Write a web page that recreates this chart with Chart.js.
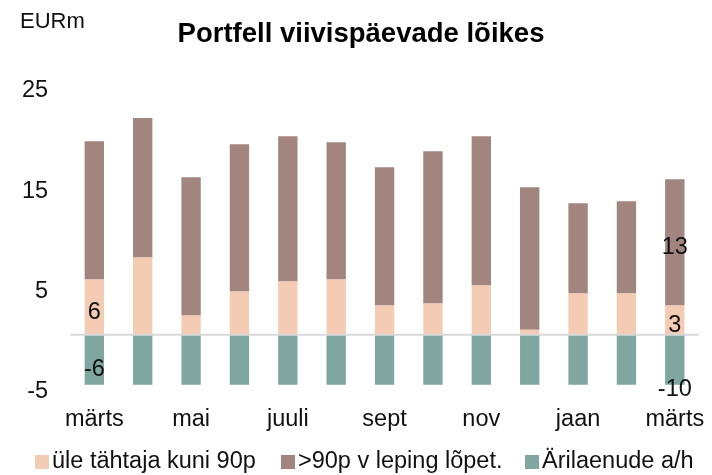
<!DOCTYPE html>
<html>
<head>
<meta charset="utf-8">
<script src="https://cdn.jsdelivr.net/npm/chart.js@4"></script>
<style>
  html, body { margin: 0; padding: 0; background: #fff; }
  #wrap { position: relative; width: 712px; height: 475px; }
  #legend { position: absolute; left: 0; top: 446px; width: 712px; height: 28px;
            font: 23.5px "Liberation Sans", Arial, sans-serif; color: #111; }
  #legend .item { position: absolute; top: 0; white-space: nowrap; line-height: 28px; }
  #legend .box { display: inline-block; width: 14px; height: 14px; margin-right: 3px; vertical-align: -1px; }
</style>
</head>
<body>
<div id="wrap"><canvas id="chart"></canvas><div id="legend"></div></div>
<script>
const months = ['märts', 'apr', 'mai', 'juuni', 'juuli', 'aug', 'sept', 'okt', 'nov', 'dets', 'jaan', 'veebr', 'märts'];
const overdue90 = [5.5, 7.7, 1.9, 4.3, 5.3, 5.5, 2.9, 3.1, 4.9, 0.5, 4.1, 4.1, 2.9];
const over90 = [13.8, 13.9, 13.8, 14.7, 14.5, 13.7, 13.8, 15.2, 14.9, 14.2, 9.0, 9.2, 12.6];
const businessLoans = [-6, -6, -6, -7, -7, -7, -8, -8, -8, -9, -9, -10, -10];
const yTicks = [-5, 5, 15, 25];
const seriesNames = ['üle tähtaja kuni 90p', '>90p v leping lõpet.', 'Ärilaenude a/h'];
const seriesColors = ['#f4cbb3', '#a3857f', '#7fa7a0'];
// which segments carry a value label: [month index, dataset index]
const labelled = [[0, 0], [0, 2], [12, 0], [12, 1], [12, 2]];

const FONT = '"Liberation Sans", Arial, sans-serif';

// value labels centred on the (unclipped) segment
const valueLabels = {
  id: 'valueLabels',
  afterDatasetsDraw(chart) {
    const ctx = chart.ctx;
    const y = chart.scales.y;
    ctx.save();
    ctx.font = '23.5px ' + FONT;
    ctx.fillStyle = '#111';
    ctx.textAlign = 'center';
    ctx.textBaseline = 'middle';
    labelled.forEach(([i, d]) => {
      const bar = chart.getDatasetMeta(d).data[i];
      const base = d === 1 ? overdue90[i] : 0;
      const v = chart.data.datasets[d].data[i];
      const mid = y.getPixelForValue(base + v / 2);
      ctx.fillText(String(Math.round(v)), bar.x, mid + 5);
    });
    ctx.restore();
  }
};

const zeroLine = {
  id: 'zeroLine',
  afterDatasetsDraw(chart) {
    const ctx = chart.ctx;
    const area = chart.chartArea;
    const y0 = chart.scales.y.getPixelForValue(0);
    ctx.save();
    ctx.strokeStyle = '#d9d9d9';
    ctx.lineWidth = 2;
    ctx.beginPath();
    ctx.moveTo(area.left, y0);
    ctx.lineTo(area.right, y0);
    ctx.stroke();
    ctx.restore();
  }
};

// unit label and title, drawn at the reference's positions
const headings = {
  id: 'headings',
  afterDraw(chart) {
    const ctx = chart.ctx;
    ctx.save();
    ctx.fillStyle = '#111';
    ctx.textBaseline = 'middle';
    ctx.font = '22px ' + FONT;
    ctx.fillText('EURm', 20, 22);
    ctx.fillStyle = '#000';
    ctx.textAlign = 'center';
    ctx.textBaseline = 'alphabetic';
    ctx.font = 'bold 27.5px ' + FONT;
    ctx.fillText('Portfell viivispäevade lõikes', 361, 42);
    ctx.restore();
  }
};

const chart = new Chart(document.getElementById('chart'), {
  type: 'bar',
  data: {
    labels: months,
    datasets: [
      { label: seriesNames[0], data: overdue90, backgroundColor: seriesColors[0] },
      { label: seriesNames[1], data: over90, backgroundColor: seriesColors[1] },
      { label: seriesNames[2], data: businessLoans, backgroundColor: seriesColors[2] }
    ]
  },
  options: {
    responsive: true,
    maintainAspectRatio: false,
    animation: false,
    layout: { padding: { left: 0, right: 13, top: 84, bottom: 20 } },
    datasets: { bar: { barPercentage: 0.4, categoryPercentage: 1, borderWidth: 0 } },
    plugins: {
      title: { display: false },
      legend: { display: false },
      tooltip: { enabled: false }
    },
    scales: {
      x: {
        stacked: true,
        grid: { display: false, drawTicks: false },
        border: { display: false },
        afterFit: axis => { axis.paddingLeft = 0; axis.paddingRight = 0; },
        ticks: {
          autoSkip: false,
          maxRotation: 0,
          color: '#111',
          font: { family: FONT, size: 23.5 },
          padding: 21,
          callback: (v, i) => (i % 2 === 0 ? months[i] : '')
        }
      },
      y: {
        stacked: true,
        min: -5,
        max: 25,
        grid: { display: false, drawTicks: false },
        border: { display: false },
        afterBuildTicks: axis => { axis.ticks = yTicks.map(v => ({ value: v })); },
        ticks: {
          color: '#111',
          font: { family: FONT, size: 23.5 },
          padding: 22,
          labelOffset: 7
        }
      }
    }
  },
  plugins: [valueLabels, zeroLine, headings]
});

// legend built from the chart's datasets
const legendLefts = [35, 281, 525];
const legendEl = document.getElementById('legend');
chart.data.datasets.forEach((ds, i) => {
  const item = document.createElement('div');
  item.className = 'item';
  item.style.left = legendLefts[i] + 'px';
  const box = document.createElement('span');
  box.className = 'box';
  box.style.background = ds.backgroundColor;
  item.appendChild(box);
  item.appendChild(document.createTextNode(ds.label));
  legendEl.appendChild(item);
});
</script>
</body>
</html>
